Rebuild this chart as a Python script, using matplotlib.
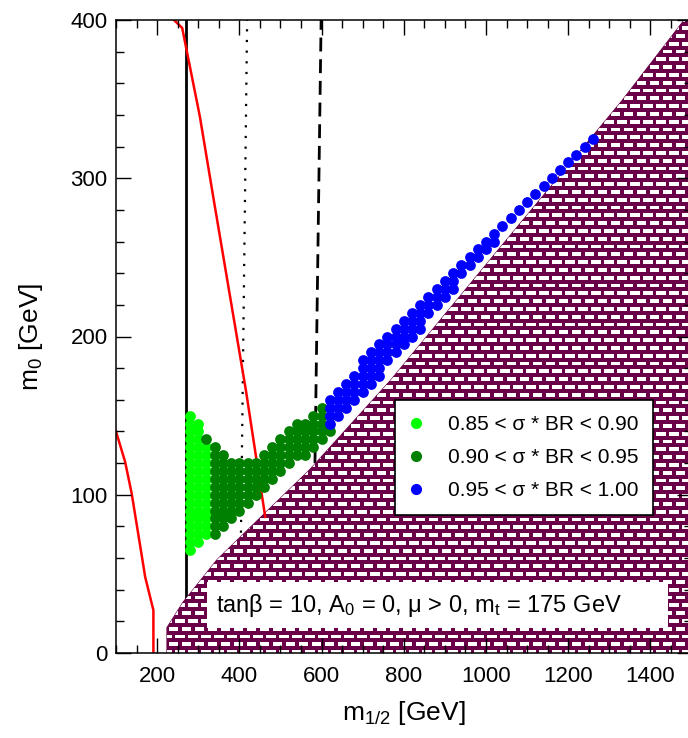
import numpy as np
import matplotlib
matplotlib.use("Agg")
import matplotlib.pyplot as plt
from matplotlib.patches import Polygon, Rectangle
from matplotlib.collections import PatchCollection
from matplotlib.transforms import Affine2D
from matplotlib.lines import Line2D
from matplotlib.ticker import MultipleLocator

plt.rcParams['font.family'] = ['Liberation Sans', 'DejaVu Sans']
plt.rcParams['mathtext.fontset'] = 'custom'
plt.rcParams['mathtext.rm'] = 'Liberation Sans'

# ---------------- data ----------------
# excluded region (hatched), boundary in (m1/2, m0)
excl_m12 = [224, 224, 263, 346, 572, 767, 1034, 1331, 1500, 1500]
excl_m0 = [0, 16, 32, 59, 116, 172, 256, 349, 406, 0]

# red contours
red1_m12 = [241, 261, 304, 338, 416, 463]
red1_m0 = [400, 395, 339, 286, 166, 86]
red2_m12 = [100, 122, 138, 163, 171, 191, 191]
red2_m0 = [140, 121, 101, 61, 48, 27, 0]

# vertical limits
solid_m12 = [270, 270]
solid_m0 = [0, 400]
dotted_m12 = [404, 419]
dotted_m0 = [76, 400]
dashed_m12 = [584, 599]
dashed_m0 = [120, 400]

# scan points: column m1/2, lowest and highest m0 (step 5 GeV)
light_col = [280, 300, 320]
light_lo = [65, 70, 75]
light_hi = [150, 145, 130]

dark_col = [320, 340, 360, 380, 400, 420, 440, 460, 480, 500, 520, 540, 560, 580, 600, 620]
dark_lo = [135, 75, 80, 85, 90, 95, 100, 105, 110, 115, 120, 125, 125, 130, 135, 140]
dark_hi = [135, 130, 125, 120, 120, 120, 120, 125, 130, 135, 140, 145, 145, 150, 155, 140]

blue_col = [620, 640, 660, 680, 700, 720, 740, 760, 780, 800, 820, 840, 860, 880, 900,
            920, 940, 960, 980, 1000, 1020, 1040, 1060, 1080, 1100, 1120, 1140, 1160,
            1180, 1200, 1220, 1240, 1260]
blue_lo = [145, 150, 155, 160, 165, 170, 175, 185, 190, 195, 200, 205, 215, 220, 225,
           230, 240, 245, 250, 255, 260, 270, 275, 280, 285, 290, 295, 300,
           305, 310, 315, 320, 325]
blue_hi = [160, 165, 170, 175, 185, 190, 195, 200, 205, 210, 215, 220, 225, 230, 235,
           240, 245, 250, 255, 260, 265, 270, 275, 280, 285, 290, 295, 300,
           305, 310, 315, 320, 325]

labels = ['0.85 < σ * BR < 0.90', '0.90 < σ * BR < 0.95', '0.95 < σ * BR < 1.00']
colors = ['#00ff00', '#008000', '#0000ff']


def expand(cols, lo, hi):
    xs, ys = [], []
    for c, a, b in zip(cols, lo, hi):
        for m0 in range(a, b + 1, 5):
            xs.append(c)
            ys.append(m0)
    return xs, ys


W, H = 688, 738
fig = plt.figure(figsize=(W / 100, H / 100), dpi=100)
ax = fig.add_axes([116 / W, 85 / H, 575.5 / W, 633 / H])
ax.set_xlim(100, 1500)
ax.set_ylim(0, 400)

# lines (below hatch)
ax.plot(solid_m12, solid_m0, color='black', lw=2, zorder=0.8)
ax.plot(dotted_m12, dotted_m0, color='black', lw=1.6, ls=(0, (1, 3.8)), zorder=0.8)
ax.plot(dashed_m12, dashed_m0, color='black', lw=2, ls=(0, (5, 2.8)), zorder=0.8)

# hatched excluded region with brick pattern
poly = Polygon(list(zip(excl_m12, excl_m0)), closed=True, facecolor='#6a0047',
               edgecolor='#6a0047', lw=0.8, zorder=1.0)
ax.add_patch(poly)
px = Affine2D().scale(1 / W, 1 / H) + fig.transFigure
bricks = []
row = 0
y = 84.0
while y < 720:
    off = 0 if row % 2 == 0 else 6.5
    x = 110.0 + off
    while x < 700:
        bricks.append(Rectangle((x, y), 9.5, 3.8))
        x += 13
    y += 7.8
    row += 1
pc = PatchCollection(bricks, facecolor='white', edgecolor='none', transform=px, zorder=1.1)
ax.add_collection(pc)
pc.set_clip_path(poly)

# red contours
ax.plot(red1_m12, red1_m0, color='red', lw=1.8, zorder=1.3)
ax.plot(red2_m12, red2_m0, color='red', lw=1.8, zorder=1.3)

# scan points
for (cols, lo, hi), col in zip([(light_col, light_lo, light_hi),
                                (dark_col, dark_lo, dark_hi),
                                (blue_col, blue_lo, blue_hi)], colors):
    xs, ys = expand(cols, lo, hi)
    ax.scatter(xs, ys, s=60, color=col, linewidths=0, zorder=2)

# info box
ax.add_patch(Rectangle((321, 15.8), 1122, 29.1, facecolor='white', edgecolor='none', zorder=3))
ax.text(343, 30, r'tanβ = 10, $\mathregular{A_0}$ = 0, μ > 0, $\mathregular{m_t}$ = 175 GeV',
        fontsize=17, va='center', ha='left', zorder=4)

handles = [Line2D([], [], marker='o', ls='none', color=c, markersize=7) for c in colors]
leg = ax.legend(handles, labels, loc='upper left', bbox_to_anchor=(0.4848, 0.3997),
                frameon=True, fancybox=False, edgecolor='black', framealpha=1,
                fontsize=15, handlelength=0.6, handletextpad=1.2, labelspacing=0.68,
                borderpad=0.72, borderaxespad=0)
leg.get_frame().set_linewidth(1.2)
leg.set_zorder(5)

ax.xaxis.set_major_locator(MultipleLocator(200))
ax.xaxis.set_minor_locator(MultipleLocator(50))
ax.yaxis.set_major_locator(MultipleLocator(100))
ax.yaxis.set_minor_locator(MultipleLocator(20))
ax.tick_params(which='both', direction='in', top=True, right=True, labelsize=16, width=1)
ax.tick_params(which='major', length=11)
ax.tick_params(which='minor', length=5.5)
ax.tick_params(axis='x', pad=9)
ax.tick_params(axis='y', pad=6)
ax.set_axisbelow(False)
for s in ax.spines.values():
    s.set_linewidth(1.1)

ax.set_xlabel(r'$\mathregular{m_{1/2}}$ [GeV]', fontsize=19, labelpad=9)
ax.set_ylabel(r'$\mathregular{m_0}$ [GeV]', fontsize=19, labelpad=18)

fig.savefig('out.png', dpi=100)
